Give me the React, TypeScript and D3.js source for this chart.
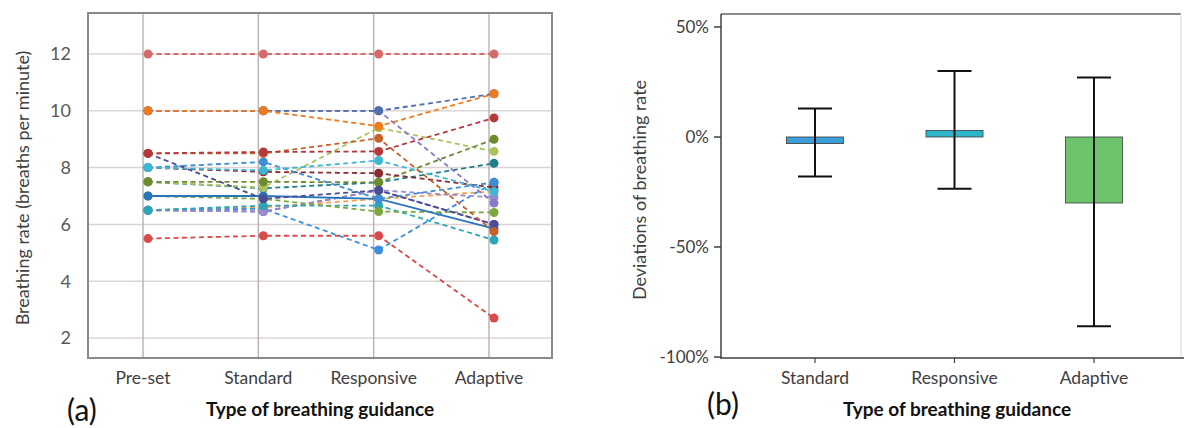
import * as d3 from "d3";

const guidance = ["Pre-set", "Standard", "Responsive", "Adaptive"];
const devCategories = ["Standard", "Responsive", "Adaptive"];

// breathing rate per subject, one array per guidance type
const presetRates = [12, 10, 10, 10, 8.5, 8.5, 8.5, 8, 8, 8, 7.5, 7.5, 7.5, 7, 7, 6.5, 6.5, 6.5, 6.5, 5.5, 6.5];
const standardRates = [12, 10, 10, 10, 8.55, 8.5, 6.9, 7.9, 8.2, 7.85, 7.5, 7.3, 7.27, 7, 6.9, 6.66, 6.45, 6.55, 6.6, 5.6, 6.45];
const responsiveRates = [12, 9.46, 10, 10, 8.57, 9.03, 7.2, 8.25, 6.9, 7.8, 7.48, 9.4, 7.48, 6.9, 6.45, 6.66, 7.2, 5.1, 6.9, 5.6, 7.2];
const adaptiveRates = [12, 10.6, 10.6, 6.75, 9.75, 5.75, 6, 7.16, 7.48, 7.3, 9, 8.57, 8.15, 5.85, 6.42, 5.45, 6.95, 7.48, 7.16, 2.7, 6];
const subjectColors = [
  "#d66a6a", "#f07a1c", "#5070b0", "#8878c8", "#b5393a", "#c8602c", "#4a4d96",
  "#3bb8d4", "#3b8ed4", "#8c2a34", "#6e8c2c", "#a9c45c", "#1f7d8c", "#2a74bc",
  "#7ba83c", "#2ba6b8", "#9a8ad0", "#3a90dc", "#f2a055", "#d94a4a", "#5e4e9e",
];
const solidSubjects = [13];

const yTicksA = [2, 4, 6, 8, 10, 12];

// mean deviation and error bar range (percent)
const devMean = [-3, 3, -30];
const devHigh = [13, 30, 27];
const devLow = [-18, -23.5, -86];
const devColors = ["#3d9fd8", "#2db6ca", "#6cc46c"];
const yTicksB = [50, 0, -50, -100];

const FONT = "Lato, 'Open Sans', sans-serif";

function PanelA() {
  const left = 88, right = 552, top = 13, bottom = 358;
  const x = d3.scalePoint<string>().domain(guidance).range([143, 489]);
  const y = d3.scaleLinear().domain([2, 12]).range([338, 54]);
  const dx = 5; // markers sit slightly right of the grid lines
  const series = presetRates.map((_, i) => [presetRates[i], standardRates[i], responsiveRates[i], adaptiveRates[i]]);
  const line = d3
    .line<number>()
    .x((_, j) => (x(guidance[j]) as number) + dx)
    .y((d) => y(d));
  const order = series.map((_, i) => i).reverse(); // first subjects on top

  return (
    <g>
      <rect x={left} y={top} width={right - left} height={bottom - top} fill="#fff" stroke="none" />
      {yTicksA.map((t) => (
        <line key={t} x1={left} x2={right} y1={y(t)} y2={y(t)} stroke="#dcd4d4" strokeWidth={1.5} />
      ))}
      {guidance.map((g) => (
        <line key={g} x1={x(g)} x2={x(g)} y1={top} y2={bottom} stroke="#bfb4b4" strokeWidth={1.5} />
      ))}
      <rect x={left} y={top} width={right - left} height={bottom - top} fill="none" stroke="#8c8888" strokeWidth={2} />
      {order.map((i) => (
        <path
          key={"l" + i}
          d={line(series[i]) || ""}
          fill="none"
          stroke={subjectColors[i]}
          strokeWidth={1.8}
          strokeDasharray={solidSubjects.includes(i) ? undefined : "5,3.5"}
        />
      ))}
      {order.map((i) =>
        series[i].map((v, j) => (
          <circle key={`p${i}-${j}`} cx={(x(guidance[j]) as number) + dx} cy={y(v)} r={4.5} fill={subjectColors[i]} />
        ))
      )}
      {yTicksA.map((t) => (
        <text key={t} x={71} y={y(t)} dy="0.36em" textAnchor="end" fontSize={18} fill="#595959" fontFamily={FONT}>
          {t}
        </text>
      ))}
      {guidance.map((g) => (
        <text key={g} x={x(g)} y={384} textAnchor="middle" fontSize={17.5} fill="#404040" fontFamily={FONT}>
          {g}
        </text>
      ))}
      <text
        transform={`translate(29,188) rotate(-90)`}
        textAnchor="middle"
        fontSize={18}
        fill="#404040"
        fontFamily={FONT}
      >
        Breathing rate (breaths per minute)
      </text>
      <text x={320} y={416} textAnchor="middle" fontSize={19} fontWeight="bold" fill="#111" fontFamily={FONT}>
        Type of breathing guidance
      </text>
      <text x={67} y={421} fontSize={30} fill="#111" fontFamily={FONT}>
        (a)
      </text>
    </g>
  );
}

function PanelB() {
  const left = 721, right = 1181, top = 14, bottom = 358;
  const x = d3.scalePoint<string>().domain(devCategories).range([815, 1094]);
  const y = d3.scaleLinear().domain([-100, 50]).range([357, 27]);
  const barW = 57;
  const capW = 34;

  return (
    <g>
      <line x1={left} x2={right} y1={top} y2={top} stroke="#8c8c8c" strokeWidth={2} />
      <line x1={right} x2={right} y1={top} y2={bottom} stroke="#e4e4e4" strokeWidth={1.5} />
      {devCategories.map((c, i) => {
        const cx = x(c) as number;
        const y0 = y(0), y1 = y(devMean[i]);
        return (
          <g key={c}>
            <rect
              x={cx - barW / 2}
              y={Math.min(y0, y1)}
              width={barW}
              height={Math.abs(y1 - y0)}
              fill={devColors[i]}
              stroke="#3a3a3a"
              strokeWidth={0.8}
            />
            <line x1={cx} x2={cx} y1={y(devHigh[i])} y2={y(devLow[i])} stroke="#111" strokeWidth={2} />
            <line x1={cx - capW / 2} x2={cx + capW / 2} y1={y(devHigh[i])} y2={y(devHigh[i])} stroke="#111" strokeWidth={2} />
            <line x1={cx - capW / 2} x2={cx + capW / 2} y1={y(devLow[i])} y2={y(devLow[i])} stroke="#111" strokeWidth={2} />
          </g>
        );
      })}
      <line x1={left} x2={left} y1={top} y2={bottom + 1} stroke="#404040" strokeWidth={1.5} />
      <line x1={left} x2={right + 3} y1={bottom} y2={bottom} stroke="#404040" strokeWidth={1.5} />
      {yTicksB.map((t) => (
        <g key={t}>
          <line x1={left - 7} x2={left} y1={y(t)} y2={y(t)} stroke="#404040" strokeWidth={1.5} />
          <text x={709} y={y(t)} dy="0.36em" textAnchor="end" fontSize={17} fill="#404040" fontFamily={FONT}>
            {t}%
          </text>
        </g>
      ))}
      {devCategories.map((c) => (
        <g key={c}>
          <line x1={x(c)} x2={x(c)} y1={bottom} y2={bottom + 5} stroke="#404040" strokeWidth={1.2} />
          <text x={x(c)} y={384} textAnchor="middle" fontSize={17.5} fill="#404040" fontFamily={FONT}>
            {c}
          </text>
        </g>
      ))}
      <text
        transform={`translate(646,190) rotate(-90)`}
        textAnchor="middle"
        fontSize={18}
        fill="#404040"
        fontFamily={FONT}
      >
        Deviations of breathing rate
      </text>
      <text x={957} y={416} textAnchor="middle" fontSize={19} fontWeight="bold" fill="#111" fontFamily={FONT}>
        Type of breathing guidance
      </text>
      <text x={707} y={415} fontSize={30} fill="#111" fontFamily={FONT}>
        (b)
      </text>
    </g>
  );
}

export default function App() {
  return (
    <svg
      width={1184}
      height={428}
      style={{ position: "absolute", left: 0, top: 0, background: "#fff" }}
    >
      <rect width={1184} height={428} fill="#fff" />
      <PanelA />
      <PanelB />
    </svg>
  );
}
